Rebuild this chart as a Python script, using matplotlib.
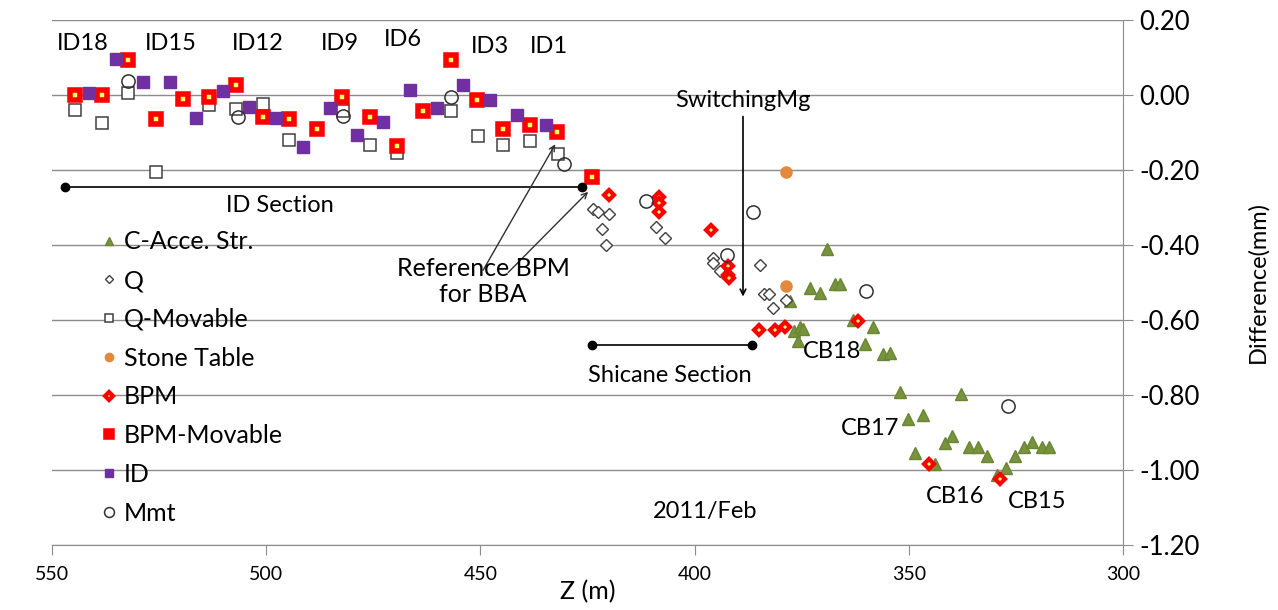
import matplotlib
matplotlib.use("Agg")
import matplotlib.pyplot as plt
from matplotlib.ticker import FuncFormatter

plt.rcParams['font.family'] = ['Lato', 'DejaVu Sans']

# values: Z (m) and difference (mm)
acc_z = [369.0, 373.1, 370.7, 367.2, 366.1, 377.7, 376.9, 375.4, 374.6, 375.8, 363.1, 358.3, 360.2,
         356.1, 354.4, 352.1, 337.8, 350.3, 346.6, 341.5, 339.8, 348.6, 343.9, 335.9, 333.8, 331.8,
         327.2, 325.2, 323.1, 321.3, 319.0, 317.2, 329.5]
acc_d = [-0.412, -0.514, -0.527, -0.503, -0.503, -0.549, -0.629, -0.620, -0.624, -0.655, -0.600, -0.620, -0.664,
         -0.691, -0.689, -0.792, -0.797, -0.863, -0.854, -0.927, -0.910, -0.955, -0.984, -0.940, -0.938, -0.962,
         -0.995, -0.964, -0.938, -0.925, -0.940, -0.938, -1.013]

q_z = [423.6, 422.6, 420.0, 421.7, 420.7, 408.9, 406.9, 395.8, 395.6, 394.1, 384.7, 383.8, 382.6, 381.6, 378.7]
q_d = [-0.304, -0.311, -0.318, -0.357, -0.399, -0.351, -0.381, -0.434, -0.448, -0.470, -0.454, -0.530, -0.530,
       -0.567, -0.548]

qm_z = [544.6, 538.3, 532.2, 525.8, 513.4, 507.0, 500.7, 494.6, 482.0, 475.8, 469.5, 456.9, 450.6, 444.7,
        438.4, 432.0]
qm_d = [-0.040, -0.075, 0.005, -0.205, -0.028, -0.037, -0.024, -0.119, -0.042, -0.134, -0.156, -0.044, -0.110,
        -0.134, -0.123, -0.158]

stone_z = [378.7, 378.7]
stone_d = [-0.205, -0.510]

bpm_z = [419.9, 408.2, 408.2, 408.2, 396.2, 392.1, 392.1, 391.9, 384.9, 381.2, 378.9, 361.9, 345.3, 328.7]
bpm_d = [-0.267, -0.271, -0.289, -0.311, -0.360, -0.456, -0.479, -0.487, -0.627, -0.627, -0.620, -0.604,
         -0.984, -1.024]

bpmm_z = [544.6, 538.3, 532.2, 525.8, 519.5, 513.4, 507.0, 500.8, 494.7, 488.2, 482.2, 475.8, 469.5, 463.3,
          456.9, 450.9, 444.7, 438.4, 432.2, 423.9]
bpmm_d = [0.000, 0.000, 0.094, -0.065, -0.011, -0.006, 0.026, -0.059, -0.065, -0.092, -0.006, -0.059, -0.136,
          -0.044, 0.094, -0.013, -0.090, -0.081, -0.099, -0.218]

id_z = [541.3, 535.1, 528.8, 522.5, 516.5, 510.2, 504.0, 497.7, 491.3, 485.1, 478.9, 472.7, 466.4, 460.2,
        454.0, 447.8, 441.5, 434.8]
id_d = [0.005, 0.097, 0.035, 0.035, -0.062, 0.011, -0.031, -0.062, -0.140, -0.035, -0.106, -0.071, 0.013,
        -0.035, 0.026, -0.013, -0.053, -0.081]

mmt_z = [532.2, 506.7, 482.0, 456.9, 430.6, 411.3, 386.4, 392.5, 360.0, 326.9]
mmt_d = [0.036, -0.059, -0.056, -0.005, -0.185, -0.282, -0.313, -0.426, -0.523, -0.830]

# labels of the insertion devices along the top
id_names = ["ID18", "ID15", "ID12", "ID9", "ID6", "ID3", "ID1"]
id_name_z = [542.8, 522.2, 501.9, 482.8, 468.1, 447.8, 434.0]
id_name_d = [0.138, 0.138, 0.138, 0.138, 0.148, 0.130, 0.130]

cb_names = ["CB18", "CB17", "CB16", "CB15"]
cb_z = [367.9, 359.1, 339.2, 320.1]
cb_d = [-0.683, -0.890, -1.070, -1.083]

fig = plt.figure(figsize=(12.78, 6.10), dpi=100)
ax = fig.add_axes([0.0407, 0.1066, 0.8380, 0.8607])

grey = '#8c8c8c'
ax.plot(acc_z, acc_d, ls='none', marker='^', ms=8.5, color='#77933c', mec='#6a8535', label='C-Acce. Str.')
ax.plot(q_z, q_d, ls='none', marker='D', ms=6, mfc='white', mec='#404040', mew=1, label='Q')
ax.plot(qm_z, qm_d, ls='none', marker='s', ms=8, mfc='white', mec='#404040', mew=1.1, label='Q-Movable')
ax.plot(stone_z, stone_d, ls='none', marker='o', ms=8, color='#e2893b', label='Stone Table')
ax.plot(bpm_z, bpm_d, ls='none', marker='D', ms=5.5, mfc='#ffff66', mec='red', mew=3, label='BPM')
ax.plot(bpmm_z, bpmm_d, ls='none', marker='s', ms=6.5, mfc='#ffff66', mec='red', mew=4,
        label='BPM-Movable')
ax.plot(id_z, id_d, ls='none', marker='s', ms=8, color='#7030a0', label='ID')
ax.plot(mmt_z, mmt_d, ls='none', marker='o', ms=9.5, mfc='none', mec='#303030', mew=1.1, label='Mmt')

ax.set_xlim(550, 300)
ax.set_ylim(-1.2, 0.2)
ax.set_xticks([550, 500, 450, 400, 350, 300])
ax.set_yticks([0.2, 0.0, -0.2, -0.4, -0.6, -0.8, -1.0, -1.2])
ax.yaxis.set_major_formatter(FuncFormatter(lambda v, p: f"{v:.2f}".replace("-0.00", "0.00")))
ax.yaxis.tick_right()
ax.yaxis.set_label_position('right')
ax.grid(axis='y', color=grey, lw=1)
ax.set_axisbelow(True)
for s in ['top', 'left']:
    ax.spines[s].set_visible(False)
for s in ['bottom', 'right']:
    ax.spines[s].set_color(grey)
ax.tick_params(axis='both', colors=grey, labelcolor='black', direction='out', length=7)
ax.tick_params(axis='x', pad=8, labelsize=14)
ax.tick_params(axis='y', pad=5, labelsize=18.5)
ax.set_xlabel("Z (m)", fontsize=18, labelpad=-2)
ax.set_ylabel("Difference(mm)", fontsize=17, labelpad=34)

tsize = 17
for name, z, d in zip(id_names, id_name_z, id_name_d):
    ax.text(z, d, name, fontsize=tsize, ha='center', va='center')
for name, z, d in zip(cb_names, cb_z, cb_d):
    ax.text(z, d, name, fontsize=tsize, ha='center', va='center')

# section bars
ax.plot([547.0, 426.3], [-0.246, -0.246], color='black', lw=1.2, marker='o', ms=6)
ax.text(496.8, -0.295, "ID Section", fontsize=tsize, ha='center', va='center')
ax.plot([423.9, 386.6], [-0.668, -0.668], color='black', lw=1.2, marker='o', ms=6)
ax.text(405.7, -0.748, "Shicane Section", fontsize=tsize, ha='center', va='center')

# reference BPM arrows
ax.annotate("", xy=(432.2, -0.125), xytext=(449.7, -0.474),
            arrowprops=dict(arrowstyle='->', color='#303030', lw=1))
ax.annotate("", xy=(424.4, -0.253), xytext=(444.0, -0.479),
            arrowprops=dict(arrowstyle='->', color='#303030', lw=1))
ax.text(449.4, -0.497, "Reference BPM\nfor BBA", fontsize=18, ha='center', va='center', linespacing=1.15)

ax.annotate("", xy=(388.7, -0.545), xytext=(388.7, -0.05),
            arrowprops=dict(arrowstyle='->', color='black', lw=1.2))
ax.text(388.7, -0.015, "SwitchingMg", fontsize=tsize, ha='center', va='center')

ax.text(397.6, -1.11, "2011/Feb", fontsize=tsize, ha='center', va='center')

ax.legend(loc='upper left', bbox_to_anchor=(0.025, 0.642), frameon=False, fontsize=18,
          markerscale=0.75, handlelength=0.6, handletextpad=0.3, labelspacing=0.63)

fig.savefig("out.png", dpi=100)
